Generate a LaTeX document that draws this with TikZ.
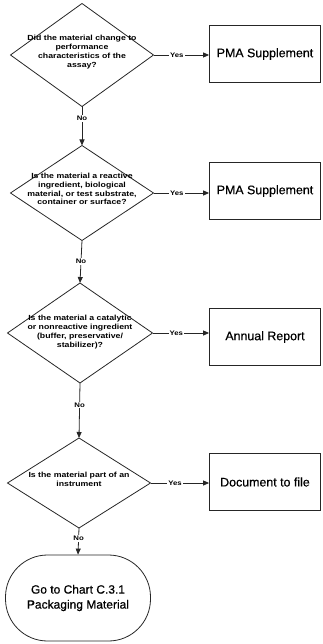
\documentclass[tikz,border=0pt]{standalone}
\usepackage{fontspec}
\setmainfont{Liberation Sans}
\newfontfamily\qfont{Liberation Sans}[FakeStretch=1.18]
\newfontfamily\boxfont{Liberation Sans}[FakeBold=0.6]
\usetikzlibrary{shapes.geometric,arrows.meta}
\begin{document}
\begin{tikzpicture}[x=1pt,y=-1pt,
  ink/.style={draw=black!85,line width=0.8pt},
  decision/.style={ink,diamond,inner sep=0pt,outer sep=0pt},
  qtext/.style={align=center,inner sep=0pt,font=\qfont\bfseries\fontsize{7.4}{8.8}\selectfont},
  outcome/.style={ink,rectangle,inner sep=0pt,minimum width=111pt,minimum height=57pt,
    font=\boxfont\fontsize{12.4}{14}\selectfont},
  terminal/.style={ink,rectangle,rounded corners=42pt,inner sep=0pt,minimum width=145pt,minimum height=86pt,
    align=center,font=\boxfont\fontsize{12}{15}\selectfont},
  lbl/.style={inner sep=1pt,fill=white,font=\qfont\bfseries\fontsize{6.6}{8}\selectfont},
  flow/.style={ink,-{Triangle[length=6pt,width=5pt]}}
]
\useasboundingbox (0,0) rectangle (322,644);

% decisions
\node[decision,minimum width=143pt,minimum height=103pt] (d1) at (82,55) {};
\node[qtext] (t1) at (82,52) {Did the material change to\\performance\\characteristics of the\\assay?};

\node[decision,minimum width=143pt,minimum height=95pt] (d2) at (82,193) {};
\node[qtext] (t2) at (82,189) {Is the material a reactive\\ingredient, biological\\material, or test substrate,\\container or surface?};

\node[decision,minimum width=145pt,minimum height=100pt] (d3) at (80,333) {};
\node[qtext] (t3) at (80,332) {Is the material a catalytic\\or nonreactive ingredient\\(buffer, preservative/\\stabilizer)?};

\node[decision,minimum width=143pt,minimum height=90pt] (d4) at (79,483) {};
\node[qtext] (t4) at (79,479) {Is the material part of an\\instrument};

% outcomes
\node[outcome] (o1) at (265,54) {PMA Supplement};
\node[outcome] (o2) at (265,191) {PMA Supplement};
\node[outcome] (o3) at (265,337) {Annual Report};
\node[outcome] (o4) at (265,482) {Document to file};

% off-page connector
\node[terminal] (go) at (78,598) {Go to Chart C.3.1\\Packaging Material};

% "Yes" branches
\draw[flow] (d1.east) -- node[lbl,pos=0.42] {Yes} (o1.west |- d1.east);
\draw[flow] (d2.east) -- node[lbl,pos=0.42] {Yes} (o2.west |- d2.east);
\draw[flow] (d3.east) -- node[lbl,pos=0.42] {Yes} (o3.west |- d3.east);
\draw[flow] (d4.east) -- node[lbl,pos=0.42] {Yes} (o4.west |- d4.east);

% "No" branches
\draw[flow] (d1.south) -- node[lbl,pos=0.3] {No} (d2.north);
\draw[flow] (d2.south) -- node[lbl,pos=0.5] {No} (d3.north);
\draw[flow] (d3.south) -- node[lbl,pos=0.4] {No} (d4.north);
\draw[flow] (d4.south) -- node[lbl,pos=0.4] {No} (go.north);
\end{tikzpicture}
\end{document}
